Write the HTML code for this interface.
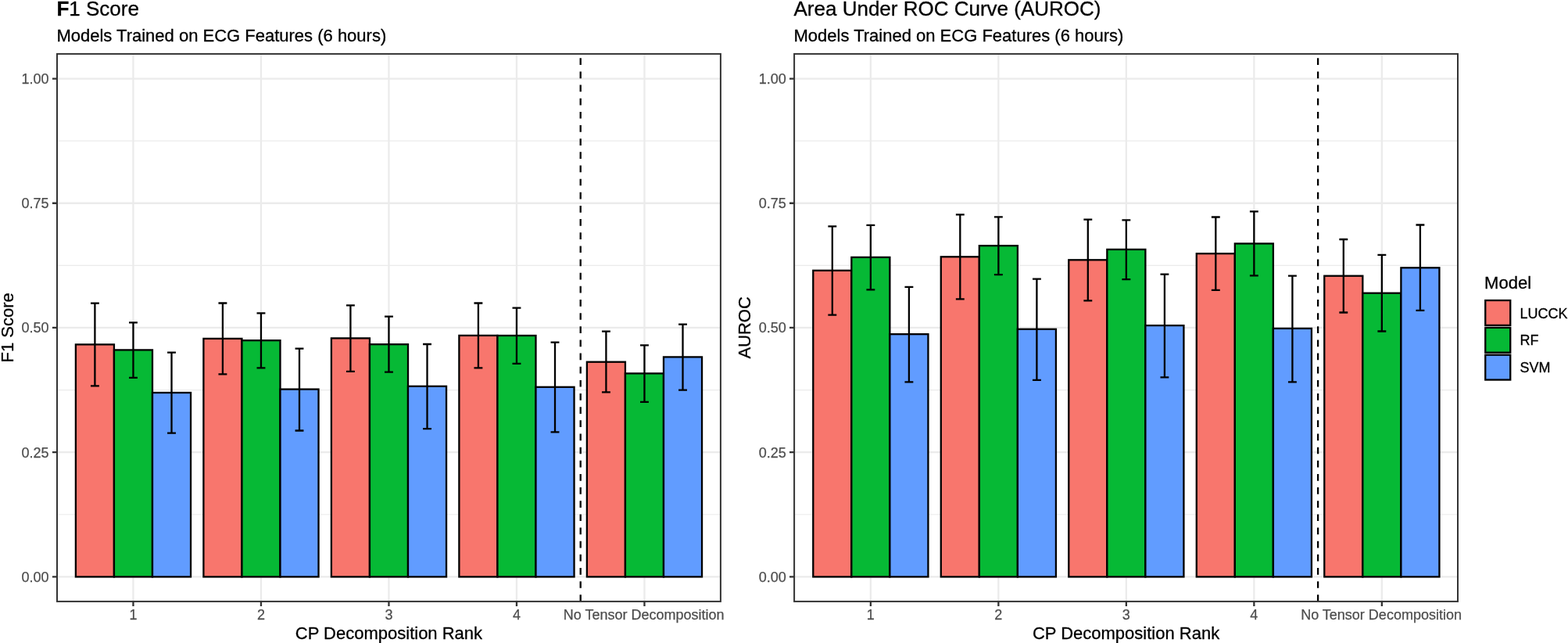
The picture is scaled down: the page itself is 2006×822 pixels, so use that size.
<!DOCTYPE html>
<html lang="en">
<head>
<meta charset="utf-8">
<title>F1 Score and AUROC by CP Decomposition Rank</title>
<style>
html,body{margin:0;padding:0;background:#fff;}
body{width:2006px;height:822px;overflow:hidden;font-family:"Liberation Sans",Arial,Helvetica,sans-serif;}
svg{display:block;}
</style>
</head>
<body>
<svg role="img" aria-label="Bar charts of F1 Score and AUROC by CP decomposition rank" width="2006" height="822" viewBox="0 0 2006 822" font-family="'Liberation Sans', Arial, Helvetica, sans-serif" fill="#000">
<style>.k{stroke:#000;stroke-width:0.3px;stroke-linejoin:round}</style>
<rect width="2006" height="822" fill="#fff"/>
<clipPath id="c0"><rect x="73" y="68.9" width="848.9" height="700"/></clipPath>
<g clip-path="url(#c0)">
<line x1="73" x2="921.9" y1="657.79" y2="657.79" stroke="#EBEBEB" stroke-width="1.15"/>
<line x1="73" x2="921.9" y1="498.58" y2="498.58" stroke="#EBEBEB" stroke-width="1.15"/>
<line x1="73" x2="921.9" y1="339.37" y2="339.37" stroke="#EBEBEB" stroke-width="1.15"/>
<line x1="73" x2="921.9" y1="180.16" y2="180.16" stroke="#EBEBEB" stroke-width="1.15"/>
<line x1="73" x2="921.9" y1="737.4" y2="737.4" stroke="#EBEBEB" stroke-width="2.3"/>
<line x1="73" x2="921.9" y1="578.19" y2="578.19" stroke="#EBEBEB" stroke-width="2.3"/>
<line x1="73" x2="921.9" y1="418.97" y2="418.97" stroke="#EBEBEB" stroke-width="2.3"/>
<line x1="73" x2="921.9" y1="259.76" y2="259.76" stroke="#EBEBEB" stroke-width="2.3"/>
<line x1="73" x2="921.9" y1="100.55" y2="100.55" stroke="#EBEBEB" stroke-width="2.3"/>
<line x1="170.46" x2="170.46" y1="68.9" y2="768.9" stroke="#EBEBEB" stroke-width="2.3"/>
<line x1="333.96" x2="333.96" y1="68.9" y2="768.9" stroke="#EBEBEB" stroke-width="2.3"/>
<line x1="497.46" x2="497.46" y1="68.9" y2="768.9" stroke="#EBEBEB" stroke-width="2.3"/>
<line x1="660.96" x2="660.96" y1="68.9" y2="768.9" stroke="#EBEBEB" stroke-width="2.3"/>
<line x1="824.46" x2="824.46" y1="68.9" y2="768.9" stroke="#EBEBEB" stroke-width="2.3"/>
<rect x="96.89" y="440.4" width="49.05" height="297" fill="#F8766D" stroke="#000" stroke-width="2.3" stroke-linejoin="miter"/>
<rect x="145.94" y="447.4" width="49.05" height="290" fill="#06B935" stroke="#000" stroke-width="2.3" stroke-linejoin="miter"/>
<rect x="194.99" y="502" width="49.05" height="235.4" fill="#619CFF" stroke="#000" stroke-width="2.3" stroke-linejoin="miter"/>
<rect x="260.39" y="432.9" width="49.05" height="304.5" fill="#F8766D" stroke="#000" stroke-width="2.3" stroke-linejoin="miter"/>
<rect x="309.44" y="435.2" width="49.05" height="302.2" fill="#06B935" stroke="#000" stroke-width="2.3" stroke-linejoin="miter"/>
<rect x="358.49" y="497.6" width="49.05" height="239.8" fill="#619CFF" stroke="#000" stroke-width="2.3" stroke-linejoin="miter"/>
<rect x="423.89" y="432.4" width="49.05" height="305" fill="#F8766D" stroke="#000" stroke-width="2.3" stroke-linejoin="miter"/>
<rect x="472.94" y="440.2" width="49.05" height="297.2" fill="#06B935" stroke="#000" stroke-width="2.3" stroke-linejoin="miter"/>
<rect x="521.99" y="493.8" width="49.05" height="243.6" fill="#619CFF" stroke="#000" stroke-width="2.3" stroke-linejoin="miter"/>
<rect x="587.38" y="428.9" width="49.05" height="308.5" fill="#F8766D" stroke="#000" stroke-width="2.3" stroke-linejoin="miter"/>
<rect x="636.43" y="429" width="49.05" height="308.4" fill="#06B935" stroke="#000" stroke-width="2.3" stroke-linejoin="miter"/>
<rect x="685.49" y="494.8" width="49.05" height="242.6" fill="#619CFF" stroke="#000" stroke-width="2.3" stroke-linejoin="miter"/>
<rect x="750.88" y="462.7" width="49.05" height="274.7" fill="#F8766D" stroke="#000" stroke-width="2.3" stroke-linejoin="miter"/>
<rect x="799.93" y="477.4" width="49.05" height="260" fill="#06B935" stroke="#000" stroke-width="2.3" stroke-linejoin="miter"/>
<rect x="848.99" y="456.4" width="49.05" height="281" fill="#619CFF" stroke="#000" stroke-width="2.3" stroke-linejoin="miter"/>
<path d="M115.96 387.6H126.86M121.41 387.6V493.3M115.96 493.3H126.86 M165.01 412.3H175.91M170.46 412.3V482.8M165.01 482.8H175.91 M214.06 450.6H224.96M219.51 450.6V553.6M214.06 553.6H224.96 M279.46 387.5H290.36M284.91 387.5V478.3M279.46 478.3H290.36 M328.51 400.4H339.41M333.96 400.4V470.3M328.51 470.3H339.41 M377.56 445.6H388.46M383.01 445.6V550.5M377.56 550.5H388.46 M442.96 390.3H453.86M448.41 390.3V474.8M442.96 474.8H453.86 M492.01 404.7H502.91M497.46 404.7V475.7M492.01 475.7H502.91 M541.06 440H551.96M546.51 440V548.1M541.06 548.1H551.96 M606.46 387.5H617.36M611.91 387.5V470.3M606.46 470.3H617.36 M655.51 393.7H666.41M660.96 393.7V464.8M655.51 464.8H666.41 M704.56 437.7H715.46M710.01 437.7V552.4M704.56 552.4H715.46 M769.96 423.7H780.86M775.41 423.7V501.4M769.96 501.4H780.86 M819.01 441.4H829.91M824.46 441.4V513.9M819.01 513.9H829.91 M868.06 414.7H878.96M873.51 414.7V498.6M868.06 498.6H878.96" fill="none" stroke="#000" stroke-width="2.3"/>
<line x1="742.71" x2="742.71" y1="769" y2="68.9" stroke="#000" stroke-width="2.3" stroke-dasharray="8.7 8.45"/>
</g>
<rect x="73" y="68.9" width="848.9" height="700" fill="none" stroke="#333" stroke-width="2"/>
<path d="M73 737.4H66.9 M73 578.19H66.9 M73 418.97H66.9 M73 259.76H66.9 M73 100.55H66.9 M170.46 768.9V775 M333.96 768.9V775 M497.46 768.9V775 M660.96 768.9V775 M824.46 768.9V775" fill="none" stroke="#333" stroke-width="2.3"/>
<g font-size="18" fill="#4D4D4D" stroke="#4D4D4D" stroke-width="0.25">
<text x="62.6" y="743.9" text-anchor="end">0.00</text>
<text x="62.6" y="584.69" text-anchor="end">0.25</text>
<text x="62.6" y="425.47" text-anchor="end">0.50</text>
<text x="62.6" y="266.26" text-anchor="end">0.75</text>
<text x="62.6" y="107.05" text-anchor="end">1.00</text>
<text x="170.46" y="791.5" text-anchor="middle">1</text>
<text x="333.96" y="791.5" text-anchor="middle">2</text>
<text x="497.46" y="791.5" text-anchor="middle">3</text>
<text x="660.96" y="791.5" text-anchor="middle">4</text>
<text x="823.66" y="791.5" text-anchor="middle">No Tensor Decomposition</text>
</g>
<text class="k" x="72.4" y="20.4" font-size="26"><tspan font-weight="bold">F</tspan>1 Score</text>
<text class="k" x="72.4" y="53" font-size="22">Models Trained on ECG Features (6 hours)</text>
<text class="k" x="497.45" y="816.5" font-size="22" text-anchor="middle">CP Decomposition Rank</text>
<text class="k" transform="translate(17 418.9) rotate(-90)" font-size="22" text-anchor="middle">F1 Score</text>
<clipPath id="c943"><rect x="1016.1" y="68.9" width="848.9" height="700"/></clipPath>
<g clip-path="url(#c943)">
<line x1="1016.1" x2="1865" y1="657.79" y2="657.79" stroke="#EBEBEB" stroke-width="1.15"/>
<line x1="1016.1" x2="1865" y1="498.58" y2="498.58" stroke="#EBEBEB" stroke-width="1.15"/>
<line x1="1016.1" x2="1865" y1="339.37" y2="339.37" stroke="#EBEBEB" stroke-width="1.15"/>
<line x1="1016.1" x2="1865" y1="180.16" y2="180.16" stroke="#EBEBEB" stroke-width="1.15"/>
<line x1="1016.1" x2="1865" y1="737.4" y2="737.4" stroke="#EBEBEB" stroke-width="2.3"/>
<line x1="1016.1" x2="1865" y1="578.19" y2="578.19" stroke="#EBEBEB" stroke-width="2.3"/>
<line x1="1016.1" x2="1865" y1="418.97" y2="418.97" stroke="#EBEBEB" stroke-width="2.3"/>
<line x1="1016.1" x2="1865" y1="259.76" y2="259.76" stroke="#EBEBEB" stroke-width="2.3"/>
<line x1="1016.1" x2="1865" y1="100.55" y2="100.55" stroke="#EBEBEB" stroke-width="2.3"/>
<line x1="1113.86" x2="1113.86" y1="68.9" y2="768.9" stroke="#EBEBEB" stroke-width="2.3"/>
<line x1="1277.36" x2="1277.36" y1="68.9" y2="768.9" stroke="#EBEBEB" stroke-width="2.3"/>
<line x1="1440.86" x2="1440.86" y1="68.9" y2="768.9" stroke="#EBEBEB" stroke-width="2.3"/>
<line x1="1604.36" x2="1604.36" y1="68.9" y2="768.9" stroke="#EBEBEB" stroke-width="2.3"/>
<line x1="1767.86" x2="1767.86" y1="68.9" y2="768.9" stroke="#EBEBEB" stroke-width="2.3"/>
<rect x="1040.28" y="345.8" width="49.05" height="391.6" fill="#F8766D" stroke="#000" stroke-width="2.3" stroke-linejoin="miter"/>
<rect x="1089.33" y="328.9" width="49.05" height="408.5" fill="#06B935" stroke="#000" stroke-width="2.3" stroke-linejoin="miter"/>
<rect x="1138.38" y="427.2" width="49.05" height="310.2" fill="#619CFF" stroke="#000" stroke-width="2.3" stroke-linejoin="miter"/>
<rect x="1203.78" y="328.3" width="49.05" height="409.1" fill="#F8766D" stroke="#000" stroke-width="2.3" stroke-linejoin="miter"/>
<rect x="1252.83" y="314.1" width="49.05" height="423.3" fill="#06B935" stroke="#000" stroke-width="2.3" stroke-linejoin="miter"/>
<rect x="1301.88" y="420.8" width="49.05" height="316.6" fill="#619CFF" stroke="#000" stroke-width="2.3" stroke-linejoin="miter"/>
<rect x="1367.28" y="332.3" width="49.05" height="405.1" fill="#F8766D" stroke="#000" stroke-width="2.3" stroke-linejoin="miter"/>
<rect x="1416.33" y="318.9" width="49.05" height="418.5" fill="#06B935" stroke="#000" stroke-width="2.3" stroke-linejoin="miter"/>
<rect x="1465.38" y="416.1" width="49.05" height="321.3" fill="#619CFF" stroke="#000" stroke-width="2.3" stroke-linejoin="miter"/>
<rect x="1530.78" y="324.2" width="49.05" height="413.2" fill="#F8766D" stroke="#000" stroke-width="2.3" stroke-linejoin="miter"/>
<rect x="1579.83" y="311.4" width="49.05" height="426" fill="#06B935" stroke="#000" stroke-width="2.3" stroke-linejoin="miter"/>
<rect x="1628.88" y="419.9" width="49.05" height="317.5" fill="#619CFF" stroke="#000" stroke-width="2.3" stroke-linejoin="miter"/>
<rect x="1694.28" y="352.7" width="49.05" height="384.7" fill="#F8766D" stroke="#000" stroke-width="2.3" stroke-linejoin="miter"/>
<rect x="1743.33" y="374.7" width="49.05" height="362.7" fill="#06B935" stroke="#000" stroke-width="2.3" stroke-linejoin="miter"/>
<rect x="1792.38" y="342.3" width="49.05" height="395.1" fill="#619CFF" stroke="#000" stroke-width="2.3" stroke-linejoin="miter"/>
<path d="M1059.36 289.3H1070.26M1064.81 289.3V402.6M1059.36 402.6H1070.26 M1108.41 287.9H1119.31M1113.86 287.9V370.3M1108.41 370.3H1119.31 M1157.46 366.8H1168.36M1162.91 366.8V488.4M1157.46 488.4H1168.36 M1222.86 274.4H1233.76M1228.31 274.4V382.3M1222.86 382.3H1233.76 M1271.91 277.3H1282.81M1277.36 277.3V351.1M1271.91 351.1H1282.81 M1320.96 356.7H1331.86M1326.41 356.7V485.8M1320.96 485.8H1331.86 M1386.36 280.7H1397.26M1391.81 280.7V384.3M1386.36 384.3H1397.26 M1435.41 281.3H1446.31M1440.86 281.3V357.2M1435.41 357.2H1446.31 M1484.46 350.7H1495.36M1489.91 350.7V482.3M1484.46 482.3H1495.36 M1549.86 277.5H1560.76M1555.31 277.5V370.9M1549.86 370.9H1560.76 M1598.91 270.3H1609.81M1604.36 270.3V352.4M1598.91 352.4H1609.81 M1647.96 352.6H1658.86M1653.41 352.6V488.3M1647.96 488.3H1658.86 M1713.36 306H1724.26M1718.81 306V399.5M1713.36 399.5H1724.26 M1762.41 325.8H1773.31M1767.86 325.8V423.5M1762.41 423.5H1773.31 M1811.46 287.5H1822.36M1816.91 287.5V396.8M1811.46 396.8H1822.36" fill="none" stroke="#000" stroke-width="2.3"/>
<line x1="1686.11" x2="1686.11" y1="769" y2="68.9" stroke="#000" stroke-width="2.3" stroke-dasharray="8.7 8.45"/>
</g>
<rect x="1016.1" y="68.9" width="848.9" height="700" fill="none" stroke="#333" stroke-width="2"/>
<path d="M1016.1 737.4H1010 M1016.1 578.19H1010 M1016.1 418.97H1010 M1016.1 259.76H1010 M1016.1 100.55H1010 M1113.86 768.9V775 M1277.36 768.9V775 M1440.86 768.9V775 M1604.36 768.9V775 M1767.86 768.9V775" fill="none" stroke="#333" stroke-width="2.3"/>
<g font-size="18" fill="#4D4D4D" stroke="#4D4D4D" stroke-width="0.25">
<text x="1005.7" y="743.9" text-anchor="end">0.00</text>
<text x="1005.7" y="584.69" text-anchor="end">0.25</text>
<text x="1005.7" y="425.47" text-anchor="end">0.50</text>
<text x="1005.7" y="266.26" text-anchor="end">0.75</text>
<text x="1005.7" y="107.05" text-anchor="end">1.00</text>
<text x="1113.86" y="791.5" text-anchor="middle">1</text>
<text x="1277.36" y="791.5" text-anchor="middle">2</text>
<text x="1440.86" y="791.5" text-anchor="middle">3</text>
<text x="1604.36" y="791.5" text-anchor="middle">4</text>
<text x="1767.06" y="791.5" text-anchor="middle">No Tensor Decomposition</text>
</g>
<text class="k" x="1015.5" y="20.4" font-size="26">Area Under ROC Curve (AUROC)</text>
<text class="k" x="1015.5" y="53" font-size="22">Models Trained on ECG Features (6 hours)</text>
<text class="k" x="1440.55" y="816.5" font-size="22" text-anchor="middle">CP Decomposition Rank</text>
<text class="k" transform="translate(960.4 418.9) rotate(-90)" font-size="22" text-anchor="middle">AUROC</text>
<text class="k" x="1899.1" y="369.1" font-size="22">Model</text>
<rect x="1900.25" y="384" width="32" height="31.85" fill="#F8766D" stroke="#000" stroke-width="2.3"/>
<text class="k" x="1944.5" y="406.85" font-size="18">LUCCK</text>
<rect x="1900.25" y="418.85" width="32" height="31.85" fill="#06B935" stroke="#000" stroke-width="2.3"/>
<text class="k" x="1944.5" y="440.9" font-size="18">RF</text>
<rect x="1900.25" y="453.7" width="32" height="31.85" fill="#619CFF" stroke="#000" stroke-width="2.3"/>
<text class="k" x="1944.5" y="475.75" font-size="18">SVM</text>
</svg>
</body>
</html>
